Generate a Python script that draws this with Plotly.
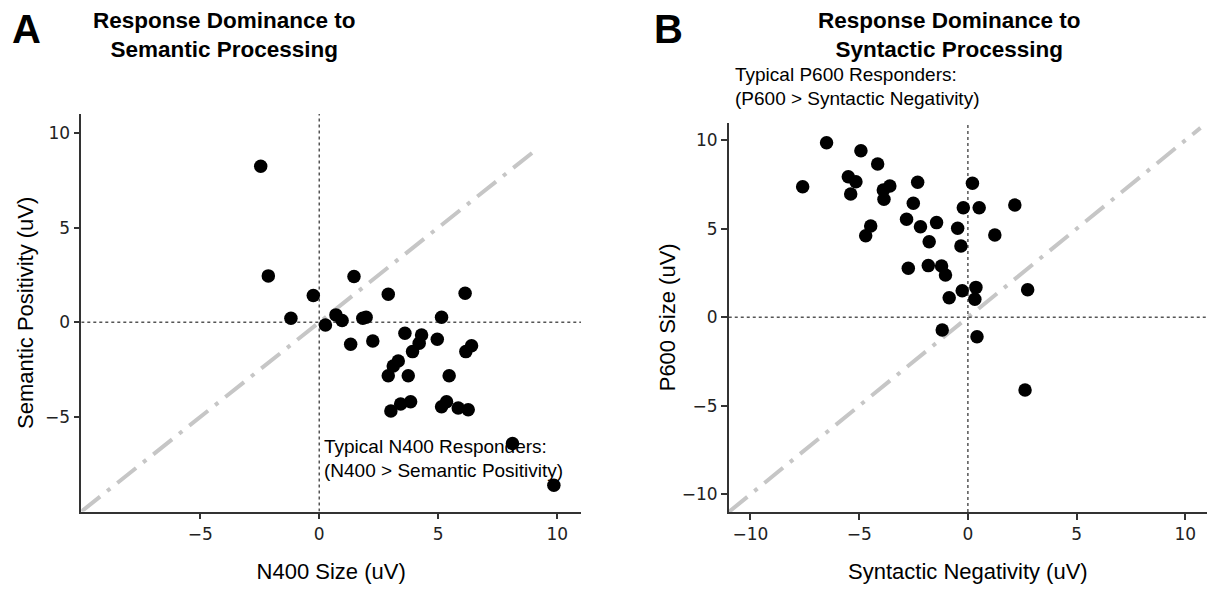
import plotly.graph_objects as go

# Panel A: N400 size vs semantic positivity
a_x = [-2.46, -2.14, -0.25, -1.19, 0.26, 0.70, 0.96, 1.46, 1.32, 1.83, 1.97, 2.25,
       2.90, 3.60, 4.30, 4.20, 3.92, 4.96, 5.14, 6.13, 6.16, 6.40, 3.32, 3.11,
       2.90, 3.74, 5.46, 3.01, 3.42, 3.84, 5.14, 5.35, 5.84, 6.26, 8.12, 9.86]
a_y = [8.24, 2.45, 1.41, 0.21, -0.14, 0.39, 0.09, 2.42, -1.16, 0.21, 0.26, -0.99,
       1.48, -0.58, -0.67, -1.11, -1.55, -0.90, 0.26, 1.53, -1.55, -1.24, -2.05, -2.31,
       -2.82, -2.82, -2.82, -4.69, -4.32, -4.20, -4.46, -4.20, -4.53, -4.62, -6.40, -8.61]

# Panel B: syntactic negativity vs P600 size
b_x = [-6.50, -4.92, -4.15, -7.60, -5.50, -5.15, -5.39, -3.59, -3.89, -3.86, -2.31, 0.21,
       -2.51, -0.21, 0.52, 2.16, -4.47, -4.70, -2.82, -2.18, -1.44, -0.47, -1.78, -0.32,
       1.24, -2.74, -1.82, -1.21, -1.03, -0.26, 0.37, 0.32, -0.86, 2.75, -1.18, 0.42, 2.63]
b_y = [9.86, 9.41, 8.66, 7.38, 7.94, 7.66, 6.97, 7.42, 7.19, 6.67, 7.63, 7.57,
       6.44, 6.19, 6.19, 6.34, 5.16, 4.61, 5.54, 5.12, 5.35, 5.03, 4.27, 4.03,
       4.65, 2.77, 2.92, 2.90, 2.39, 1.50, 1.69, 1.02, 1.11, 1.56, -0.72, -1.10, -4.11]

a_range_x = [-10, 11]
a_range_y = [-10, 11]
b_range_x = [-11, 11]
b_range_y = [-11, 11]
a_ticks = [-5, 0, 5, 10]
a_yticks = [-5, 0, 5, 10]
b_ticks = [-10, -5, 0, 5, 10]
a_diag = [-10, 9]
b_diag = [-11, 10.7]

# page body has an 8px margin; figure fills the rest of the 1217x592 window
OFF = 8
W, H = 1217 - 2 * OFF, 592 - 2 * OFF
fig = go.Figure()

def px_dom(x0, x1):
    return [(x0 - OFF) / W, (x1 - OFF) / W]

def py_dom(top, bottom):
    return [1 - (bottom - OFF) / H, 1 - (top - OFF) / H]

def pxp(x):
    return (x - OFF) / W

def pyp(y):
    return 1 - (y - OFF) / H

DIAG = dict(color="#c6c6c6", width=4, dash="24px,9px,4px,9px")
ZERO = dict(color="#555555", width=1.5, dash="dot")

# Panel A
fig.add_trace(go.Scatter(x=a_diag, y=a_diag, mode="lines", line=DIAG,
                         xaxis="x", yaxis="y", hoverinfo="skip", showlegend=False))
fig.add_trace(go.Scatter(x=a_range_x, y=[0, 0], mode="lines", line=ZERO,
                         xaxis="x", yaxis="y", hoverinfo="skip", showlegend=False))
fig.add_trace(go.Scatter(x=[0, 0], y=a_range_y, mode="lines", line=ZERO,
                         xaxis="x", yaxis="y", hoverinfo="skip", showlegend=False))
fig.add_trace(go.Scatter(x=a_x, y=a_y, mode="markers",
                         marker=dict(color="black", size=13.5),
                         xaxis="x", yaxis="y", showlegend=False))

# Panel B
fig.add_trace(go.Scatter(x=b_diag, y=b_diag, mode="lines", line=DIAG,
                         xaxis="x2", yaxis="y2", hoverinfo="skip", showlegend=False))
fig.add_trace(go.Scatter(x=b_range_x, y=[0, 0], mode="lines", line=ZERO,
                         xaxis="x2", yaxis="y2", hoverinfo="skip", showlegend=False))
fig.add_trace(go.Scatter(x=[0, 0], y=b_range_y, mode="lines", line=ZERO,
                         xaxis="x2", yaxis="y2", hoverinfo="skip", showlegend=False))
fig.add_trace(go.Scatter(x=b_x, y=b_y, mode="markers",
                         marker=dict(color="black", size=13.5),
                         xaxis="x2", yaxis="y2", showlegend=False))

TICKFONT = dict(family="DejaVu Sans", size=17, color="#222")
TITLEFONT = dict(family="Liberation Sans", size=22, color="black")
axis_common = dict(showgrid=False, zeroline=False, showline=True, linecolor="#333",
                   linewidth=1.5, ticks="outside", ticklen=6, tickwidth=1.5,
                   tickcolor="#333", tickfont=TICKFONT, mirror=False, automargin=False)

fig.update_layout(
    width=W, height=H,
    margin=dict(l=0, r=0, t=0, b=0, pad=0),
    plot_bgcolor="white", paper_bgcolor="white",
    xaxis=dict(domain=px_dom(81.3, 581), range=a_range_x, tickvals=a_ticks,
               anchor="y", title=dict(text="N400 Size (uV)", font=TITLEFONT, standoff=23),
               **axis_common),
    yaxis=dict(domain=py_dom(114, 511.6), range=a_range_y, tickvals=a_yticks,
               anchor="x", title=dict(text="Semantic Positivity (uV)", font=TITLEFONT, standoff=5),
               **axis_common),
    xaxis2=dict(domain=px_dom(728.75, 1207), range=b_range_x, tickvals=b_ticks,
                anchor="y2", title=dict(text="Syntactic Negativity (uV)", font=TITLEFONT, standoff=23),
                **axis_common),
    yaxis2=dict(domain=py_dom(122.6, 512), range=b_range_y, tickvals=b_ticks,
                anchor="x2", title=dict(text="P600 Size (uV)", font=TITLEFONT, standoff=0),
                **axis_common),
)

TXT = dict(family="Liberation Sans", size=19, color="black")
BOLD = dict(family="Liberation Sans", size=22.5, color="black")
fig.add_annotation(xref="x", yref="y", x=0.1, y=-6.55, xanchor="left", yanchor="middle",
                   text="Typical N400 Responders:", showarrow=False, font=TXT)
fig.add_annotation(xref="x", yref="y", x=0.1, y=-7.85, xanchor="left", yanchor="middle",
                   text="(N400 > Semantic Positivity)", showarrow=False, font=TXT)
fig.add_annotation(xref="paper", yref="paper", x=pxp(733), y=pyp(75), xanchor="left",
                   yanchor="middle", text="Typical P600 Responders:", showarrow=False, font=TXT)
fig.add_annotation(xref="paper", yref="paper", x=pxp(733), y=pyp(98), xanchor="left",
                   yanchor="middle", text="(P600 > Syntactic Negativity)", showarrow=False, font=TXT)

fig.add_annotation(xref="paper", yref="paper", x=pxp(224), y=pyp(35), xanchor="center",
                   yanchor="middle", text="<b>Response Dominance to<br>Semantic Processing</b>",
                   showarrow=False, font=BOLD)
fig.add_annotation(xref="paper", yref="paper", x=pxp(949), y=pyp(35), xanchor="center",
                   yanchor="middle", text="<b>Response Dominance to<br>Syntactic Processing</b>",
                   showarrow=False, font=BOLD)
fig.add_annotation(xref="paper", yref="paper", x=pxp(26), y=pyp(29), xanchor="center",
                   yanchor="middle", text="<b>A</b>", showarrow=False,
                   font=dict(family="Liberation Sans", size=40, color="black"))
fig.add_annotation(xref="paper", yref="paper", x=pxp(668), y=pyp(29), xanchor="center",
                   yanchor="middle", text="<b>B</b>", showarrow=False,
                   font=dict(family="Liberation Sans", size=40, color="black"))

fig.write_html("out.html")
